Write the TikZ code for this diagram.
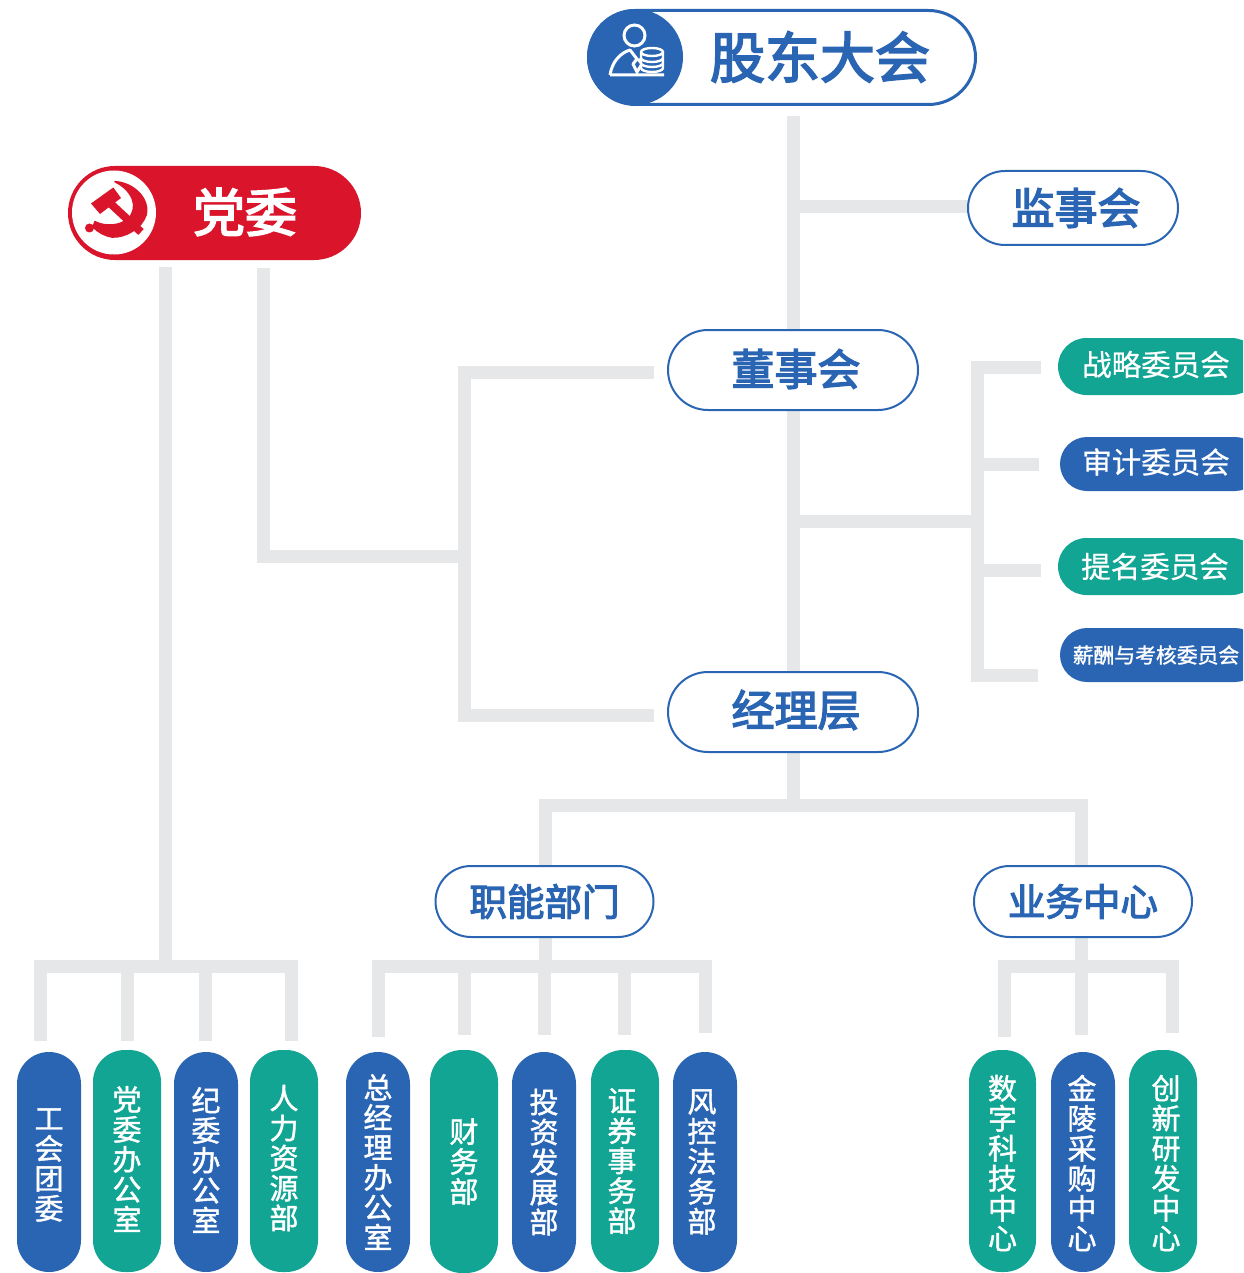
\documentclass[tikz,border=0pt]{standalone}
\usepackage{fontspec}
\setmainfont{Noto Sans CJK SC}
\newfontfamily\hvy[FakeBold=3.2]{Noto Sans CJK SC}
\newfontfamily\med[FakeBold=1.4]{Noto Sans CJK SC}
\newfontfamily\lit[FakeBold=0.6]{Noto Sans CJK SC}
\usetikzlibrary{shapes.misc,backgrounds}
\definecolor{cblue}{HTML}{2A65B3}
\definecolor{cteal}{HTML}{12A593}
\definecolor{cred}{HTML}{D9142B}
\definecolor{cgray}{HTML}{E6E7E9}
\newcommand{\nudge}[3]{\raisebox{#2}[\height][\depth]{\hspace*{#1}#3}}
\tikzset{
  x=1pt,y=-1pt,
  link/.style={draw=cgray,line width=13pt,line cap=butt,line join=miter},
  pill/.style={rounded rectangle,rounded rectangle arc length=180,inner sep=0pt,outer sep=0pt},
  outl/.style={pill,draw=cblue,line width=2pt,fill=white,text=cblue,font=\hvy\fontsize{43}{43}\selectfont},
  outs/.style={outl,font=\hvy\fontsize{37.5}{38}\selectfont},
  cmt/.style={pill,text=white,font=\lit\fontsize{29.5}{30}\selectfont,minimum width=202pt},
  vtext/.style={inner sep=0pt,text=white,align=center,font=\med\fontsize{29}{30}\selectfont},
}
\begin{document}
\begin{tikzpicture}
\useasboundingbox (0,0) rectangle (1243,1273);
\clip (0,0) rectangle (1243,1273);

% shareholder pill
\node[outl,line width=3pt,minimum width=387pt,minimum height=94pt] (gd) at (782,57.5) {};
\fill[cblue] (635,57) circle[radius=48pt];
\node[text=cblue,font=\hvy\fontsize{55}{55}\selectfont] (gdt) at (820,57) {股东大会};
% shareholder icon
\draw[white,line width=3pt,line join=round] (610,75) .. controls (612,62) and (620,53) .. (630,50) -- (637,59) -- (633,64) -- (637,72) -- (642,64) -- (638,59) (610,75) -- (664,75);
\draw[white,line width=3pt] (634.5,35.5) circle[radius=10.5pt];
\fill[cblue] (640,48) rectangle (665,72);
\draw[white,line width=2.4pt] (641,52) arc[start angle=180,end angle=540,x radius=11pt,y radius=4pt]
  (641,52) -- (641,68) arc[start angle=180,end angle=360,x radius=11pt,y radius=4pt] -- (663,52)
  (641,58) arc[start angle=180,end angle=360,x radius=11pt,y radius=4pt]
  (641,63) arc[start angle=180,end angle=360,x radius=11pt,y radius=4pt];

% party pill
\node[pill,fill=cred,minimum width=293pt,minimum height=94pt] (dw) at (214.5,213) {};
\fill[white] (114,212.5) circle[radius=42pt];
\node[text=white,font=\hvy\fontsize{52}{52}\selectfont] (dwt) at (245,212) {党委};
% hammer and sickle
\fill[cred] (91,203.5) -- (113.3,187.5) -- (121,198) -- (100,214) -- cycle;
\draw[cred,line width=8pt] (106.7,200) -- (141,232);
\filldraw[cred,line width=1.6pt,line join=round] (115,181.7) .. controls (135,183) and (150,200) .. (146,215) .. controls (142,228) and (125,238) .. (112,237) .. controls (105,236) and (98,232) .. (93,227) -- (95,221.7) .. controls (105,227) and (120,226) .. (128,219) .. controls (140,207) and (132,190) .. (115,181.7) -- cycle;
\fill[cred] (89.5,228) circle[radius=4.5pt];

\node[outl,minimum width=210pt,minimum height=74pt] (js) at (1073,208) {\nudge{6pt}{0pt}{监事会}};
\node[outl,minimum width=250pt,minimum height=80pt] (ds) at (793,370) {\nudge{6pt}{1pt}{董事会}};
\node[outl,minimum width=250pt,minimum height=80pt] (jl) at (793,712) {\nudge{6pt}{2pt}{经理层}};
\node[outs,minimum width=218pt,minimum height=71pt] (zn) at (544.5,901.5) {职能部门};
\node[outs,minimum width=218pt,minimum height=71pt] (yw) at (1083,901.5) {业务中心};

\node[cmt,fill=cteal,minimum height=57pt] (c1) at (1159,366.5) {\nudge{0pt}{2pt}{战略委员会\hspace*{6pt}}};
\node[cmt,fill=cblue,minimum height=54pt] (c2) at (1161,464) {\nudge{0pt}{2pt}{审计委员会\hspace*{10pt}}};
\node[cmt,fill=cteal,minimum height=57pt] (c3) at (1159,566.5) {\nudge{0pt}{0pt}{提名委员会\hspace*{8pt}}};
\node[cmt,fill=cblue,minimum height=54pt,font=\med\fontsize{20.8}{21}\selectfont] (c4) at (1161,655) {\nudge{0pt}{0pt}{薪酬与考核委员会\hspace*{10pt}}};

% vertical pills
\foreach \nm/\cx/\bw/\cy/\bh/\col/\dx/\dy/\txt in {
 v1/49/64/1162/220/cblue/0/-3/{工\\会\\团\\委},
 v2/127/68/1161/222/cteal/0/2/{党\\委\\办\\公\\室},
 v3/206/64/1162/220/cblue/0/2/{纪\\委\\办\\公\\室},
 v4/284/68/1161/222/cteal/0/3/{人\\力\\资\\源\\部},
 v5/378/64/1162/220/cblue/0/0/{总\\经\\理\\办\\公\\室},
 v6/464/68/1161.5/223/cteal/0/0/{财\\务\\部},
 v7/544/64/1162/220/cblue/0/0/{投\\资\\发\\展\\部},
 v8/625/68/1161/222/cteal/-3/0/{证\\券\\事\\务\\部},
 v9/705/64/1162/220/cblue/-3/0/{风\\控\\法\\务\\部},
 v10/1002.5/67/1161/222/cteal/0/-2/{数\\字\\科\\技\\中\\心},
 v11/1083/64/1162/220/cblue/-1/-1/{金\\陵\\采\\购\\中\\心},
 v12/1163/68/1161/222/cteal/3/-2/{创\\新\\研\\发\\中\\心}}{
  \node[fill=\col,inner sep=0pt,minimum width=\bw pt,minimum height=\bh pt,rounded corners=31.9pt] (\nm) at (\cx,\cy) {};
  \node[vtext,xshift=\dx pt,yshift=\dy pt] (\nm t) at (\nm.center) {\txt};
}

% junctions and free ends
\coordinate (top) at (793,116);
\coordinate (j1) at (793,207);
\coordinate (j2) at (793,521);
\coordinate (j3) at (793,805);
\coordinate (cbus) at (977,521);
\coordinate (p1) at (165,267);
\coordinate (p2) at (263,268);
\coordinate (p3) at (464,556);
\coordinate (bl) at (165,966);
\coordinate (bm) at (545,966);
\coordinate (br) at (1081,966);

\begin{scope}[on background layer]
\path[link] (top) -- (j3);
\path[link] (j1) -- (js.west |- j1);
\path[link] (j2) -- (cbus);
\path[link] (1041,367) -- (977,367) -- (977,675) -- (1038,675);
\path[link,shorten >=21pt] (cbus |- c2.west) -- (c2.west);
\path[link,shorten >=17pt] (977,570) -- (c3.west |- 0,570);
\path[link] (p1) -- (bl);
\path[link] (p2) -- (263,556) -- (p3);
\path[link] (654,372) -- (464,372) -- (464,715) -- (654,715);
\path[link] (zn.north -| bm) -- (bm |- j3) -- (br |- j3) -- (br |- yw.north);
\path[link] (zn.south -| bm) -- (bm);
\path[link] (br |- yw.south) -- (br);
\path[link] (40,1041) -- (40,966) -- (291,966) -- (291,1041);
\path[link,shorten >=9pt] (127,966) -- (v2.north);
\path[link,shorten >=11pt] (205,966) -- (205,1052);
\path[link] (378,1037) -- (378,966) -- (705,966) -- (705,1033);
\path[link,shorten >=15pt] (464,966) -- (v6.north);
\path[link,shorten >=17pt] (544,966) -- (v7.north);
\path[link,shorten >=15pt] (624,966) -- (624,1050);
\path[link] (1004,1037) -- (1004,966) -- (1172,966) -- (1172,1033);
\path[link,shorten >=17pt] (1081,966) -- (1081,1052);
\end{scope}
\end{tikzpicture}
\end{document}
